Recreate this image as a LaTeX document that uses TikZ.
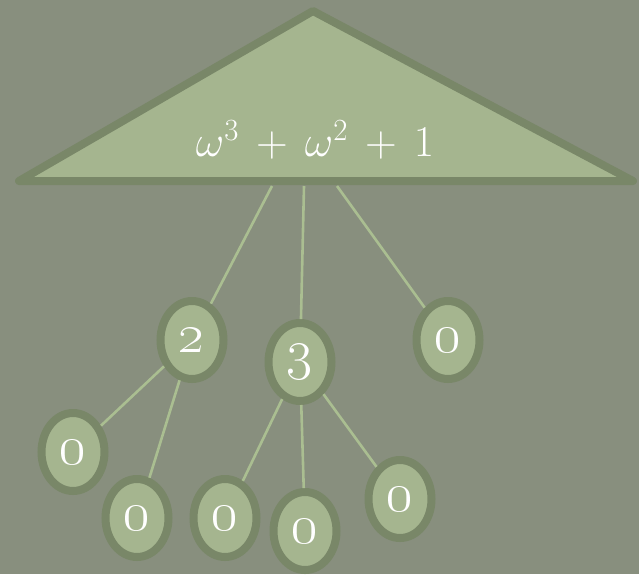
\RequirePackage{fix-cm}
\documentclass[tikz,border=0pt]{standalone}
\usetikzlibrary{shapes.geometric}
\definecolor{bg}{RGB}{136,143,126}
\definecolor{tfill}{RGB}{165,181,143}
\definecolor{tborder}{RGB}{121,135,104}
\definecolor{edgec}{RGB}{170,190,145}
\begin{document}
\begin{tikzpicture}[x=1pt,y=-1pt,
  nd/.style={ellipse, draw=tborder, fill=tfill, line width=8pt, minimum width=63pt, minimum height=78pt, inner sep=0pt, text=white, font=\fontsize{56}{56}\selectfont\bfseries},
  ed/.style={edgec, line width=2.6pt}]
\fill[bg] (0,0) rectangle (639,574);
\useasboundingbox (0,0) rectangle (639,574);
\draw[tborder, fill=tfill, line width=8pt, line join=round] (313,11) -- (633,181) -- (19,181) -- cycle;
\node[text=white, font=\fontsize{44}{44}\selectfont] (lab) at (315,140) {$\omega^{\scriptstyle 3} \mathbin{\,+\,} \omega^{\scriptstyle 2} \mathbin{\,+\,} 1$};
\coordinate (b1) at (272,186);
\coordinate (b2) at (304,186);
\coordinate (b3) at (337,186);
\node[nd] (two) at (192,340) {\oldstylenums{2}};
\node[nd] (three) at (300,362) {\oldstylenums{3}};
\node[nd] (r) at (448,340) {\oldstylenums{0}};
\node[nd] (a) at (73,452) {\oldstylenums{0}};
\node[nd] (b) at (137,518) {\oldstylenums{0}};
\node[nd] (c) at (225,518) {\oldstylenums{0}};
\node[nd] (d) at (305,531) {\oldstylenums{0}};
\node[nd] (e) at (400,499) {\oldstylenums{0}};
\draw[ed] (b1) -- (two);
\draw[ed] (b2) -- (three);
\draw[ed] (b3) -- (r);
\draw[ed] (two) -- (a);
\draw[ed] (two) -- (b);
\draw[ed] (three) -- (c);
\draw[ed] (three) -- (d);
\draw[ed] (three) -- (e);
\end{tikzpicture}
\end{document}
